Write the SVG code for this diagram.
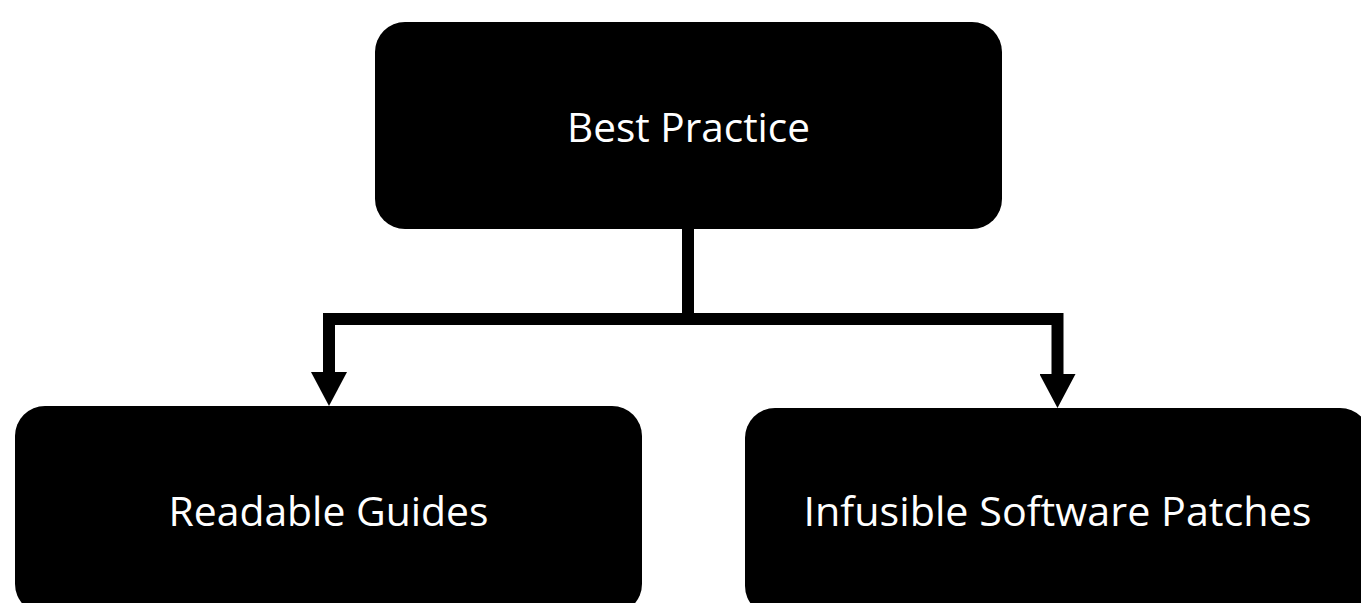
<svg xmlns="http://www.w3.org/2000/svg" width="1361" height="603" viewBox="0 0 1361 603">
  <style>
    .box { fill: #000000; }
    .label { fill: #ffffff; font-family: "Open Sans", "Noto Sans", "Liberation Sans", sans-serif; font-size: 41px; text-anchor: middle; }
    .conn { fill: none; stroke: #000000; stroke-width: 12; stroke-linejoin: miter; stroke-linecap: butt; }
  </style>
  <defs>
    <marker id="arrow" markerUnits="userSpaceOnUse" markerWidth="34" markerHeight="36" refX="0" refY="18" orient="auto" viewBox="0 0 34 36">
      <path d="M0,0 L34,18 L0,36 Z" fill="#000000"/>
    </marker>
  </defs>
  <rect width="1361" height="603" fill="#ffffff"/>
  <g id="connectors">
    <path class="conn" d="M688 229 V319 H329 V372" marker-end="url(#arrow)"/>
    <path class="conn" d="M688 319 H1057.5 V374" marker-end="url(#arrow)"/>
  </g>
  <g id="node-best-practice">
    <rect class="box" x="375" y="22" width="627" height="207" rx="30" ry="30"/>
    <text class="label" x="688.5" y="142" textLength="243" lengthAdjust="spacingAndGlyphs">Best Practice</text>
  </g>
  <g id="node-readable-guides">
    <rect class="box" x="15" y="406" width="627" height="208" rx="30" ry="30"/>
    <text class="label" x="328.5" y="526" textLength="320" lengthAdjust="spacingAndGlyphs">Readable Guides</text>
  </g>
  <g id="node-infusible-software-patches">
    <rect class="box" x="745" y="408" width="625" height="208" rx="30" ry="30"/>
    <text class="label" x="1057.5" y="526" textLength="508" lengthAdjust="spacingAndGlyphs">Infusible Software Patches</text>
  </g>
</svg>
